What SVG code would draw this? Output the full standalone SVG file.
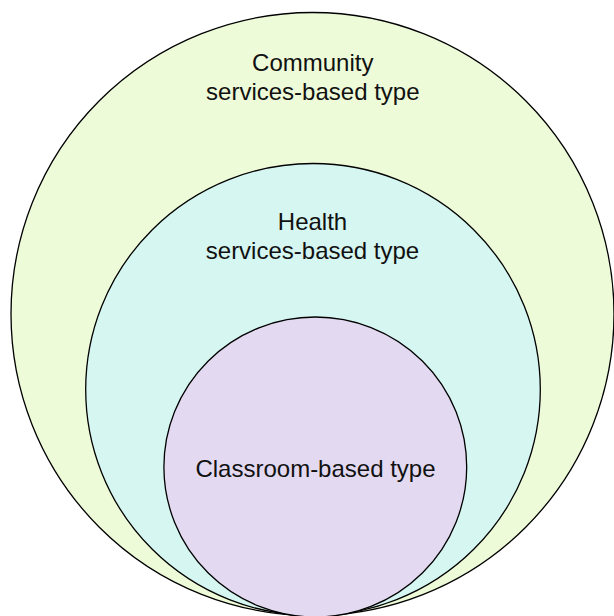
<svg xmlns="http://www.w3.org/2000/svg" width="614" height="616" viewBox="0 0 614 616">
<style>
.c{stroke:#000;stroke-width:1.3}
.t{font-family:"Liberation Sans",Arial,sans-serif;font-size:24px;fill:#111;text-anchor:middle}
</style>
<rect width="614" height="616" fill="#fff"/>
<g id="community">
<ellipse class="c" cx="312.5" cy="314" rx="301.5" ry="301.5" fill="#eefbd9"/>
<text class="t" x="312.8" y="71">Community</text>
<text class="t" x="312.8" y="99.5">services-based type</text>
</g>
<g id="health">
<ellipse class="c" cx="313" cy="389.5" rx="227.3" ry="226" fill="#d6f6f1"/>
<text class="t" x="312.5" y="230">Health</text>
<text class="t" x="312.5" y="258.5">services-based type</text>
</g>
<g id="classroom">
<ellipse class="c" cx="315.3" cy="467" rx="151.4" ry="150" fill="#e3daf2"/>
<text class="t" x="315.5" y="477">Classroom-based type</text>
</g>
<g id="connectors"/>
</svg>
